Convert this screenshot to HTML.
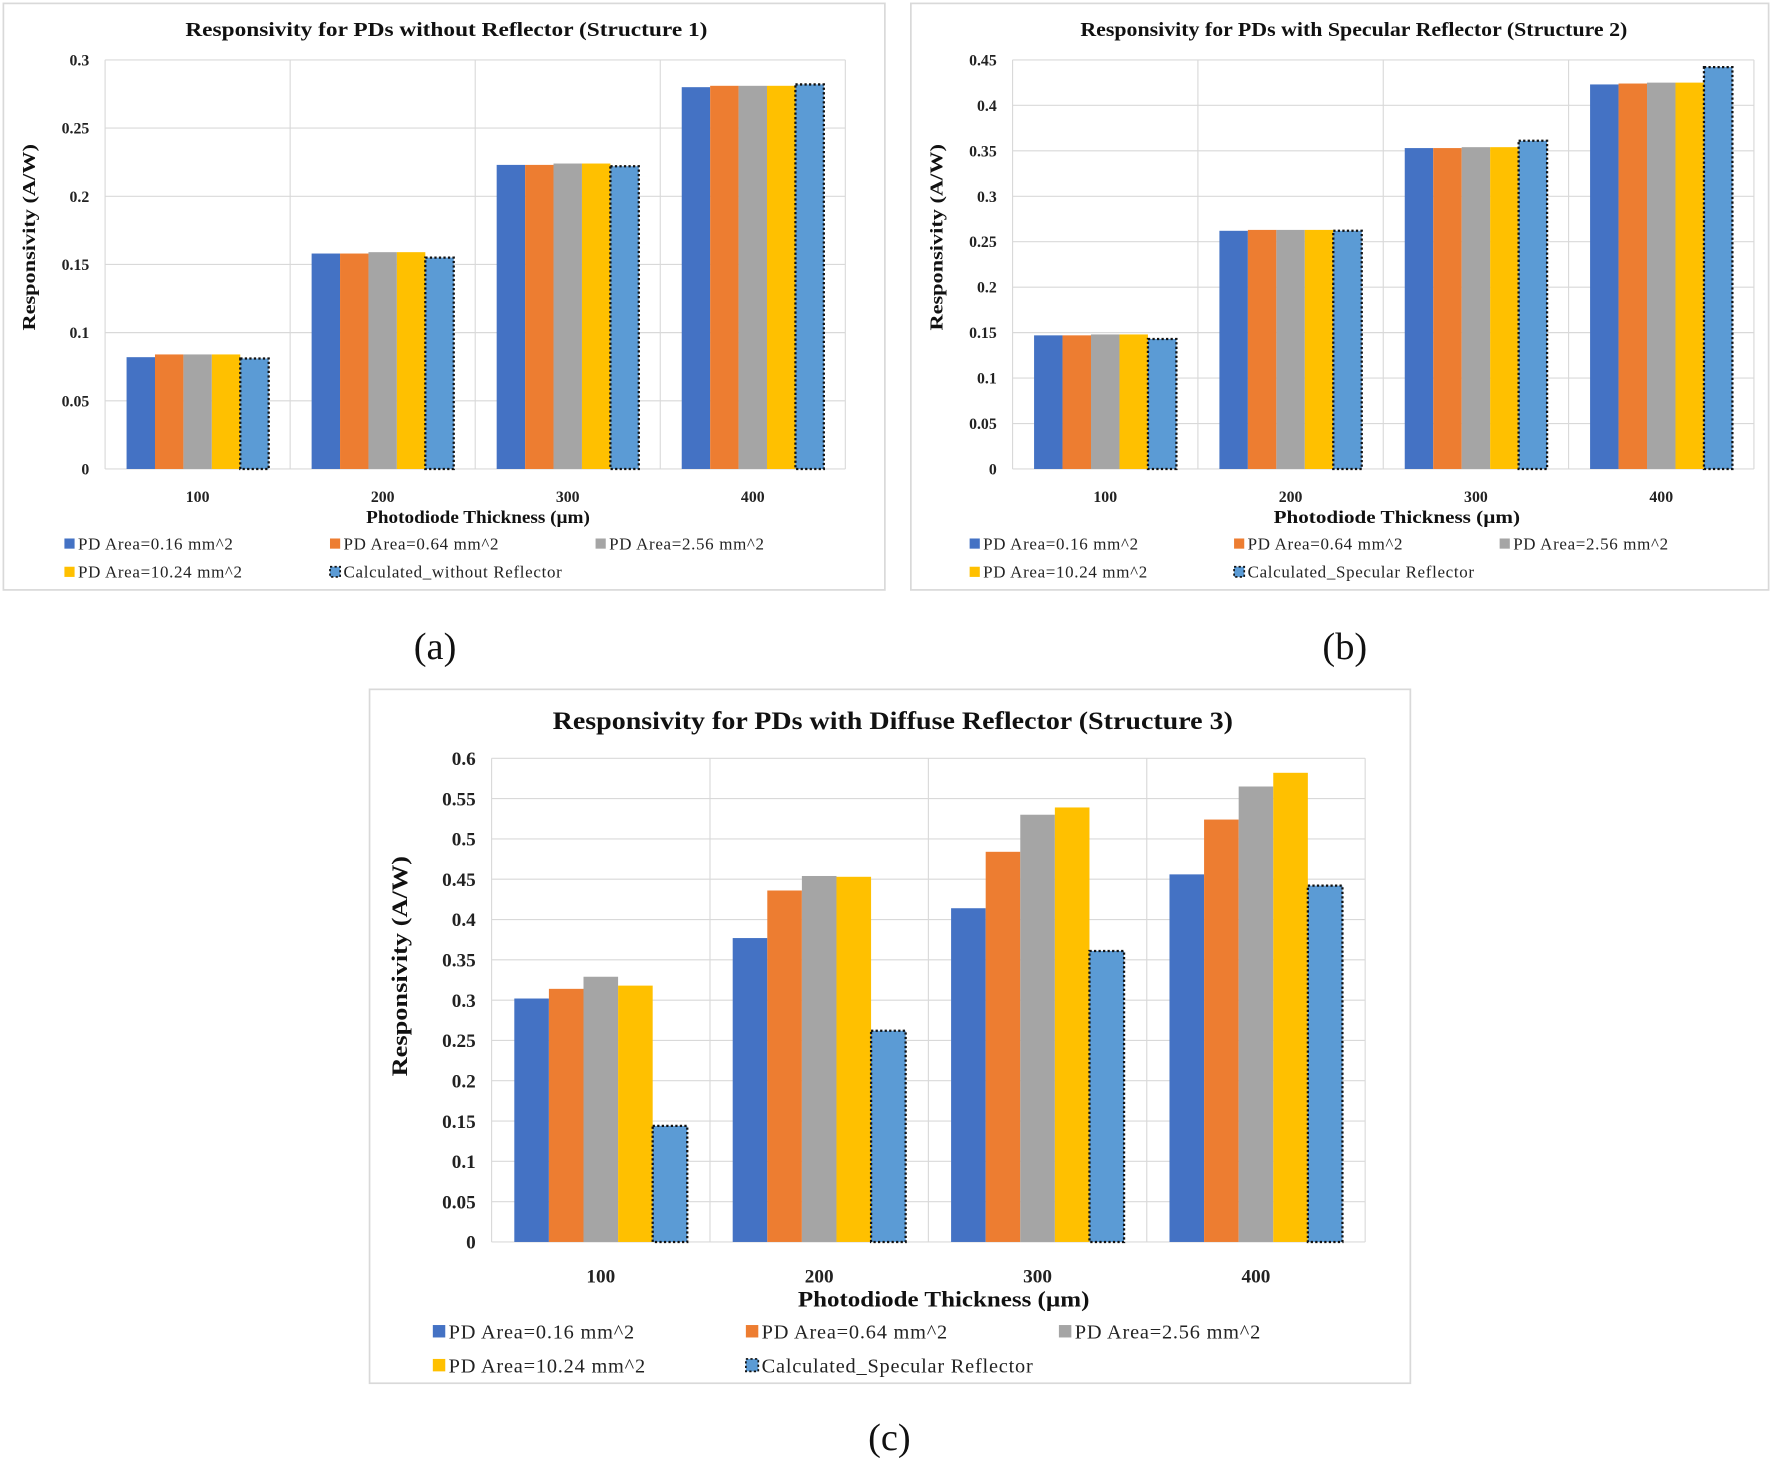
<!DOCTYPE html>
<html><head><meta charset="utf-8"><style>
html,body{margin:0;padding:0;background:#fff;}
svg{display:block;font-family:"Liberation Serif",serif;}
</style></head><body>
<svg id="root" width="1772" height="1462" viewBox="0 0 1568 1293.7" preserveAspectRatio="none" xmlns="http://www.w3.org/2000/svg"></svg>
<script>
const categories = ["100","200","300","400"];
const seriesNamesA = ["PD Area=0.16 mm^2","PD Area=0.64 mm^2","PD Area=2.56 mm^2","PD Area=10.24 mm^2","Calculated_without Reflector"];
const seriesNamesB = ["PD Area=0.16 mm^2","PD Area=0.64 mm^2","PD Area=2.56 mm^2","PD Area=10.24 mm^2","Calculated_Specular Reflector"];
const valuesA = [[0.082,0.158,0.223,0.280],[0.084,0.158,0.223,0.281],[0.084,0.159,0.224,0.281],[0.084,0.159,0.224,0.281],[0.081,0.155,0.222,0.282]];
const valuesB = [[0.147,0.262,0.353,0.423],[0.147,0.263,0.353,0.424],[0.148,0.263,0.354,0.425],[0.148,0.263,0.354,0.425],[0.143,0.262,0.361,0.442]];
const valuesC = [[0.302,0.377,0.414,0.456],[0.314,0.436,0.484,0.524],[0.329,0.454,0.530,0.565],[0.318,0.453,0.539,0.582],[0.144,0.262,0.361,0.442]];
const ticksA = ["0","0.05","0.1","0.15","0.2","0.25","0.3"];
const ticksB = ["0","0.05","0.1","0.15","0.2","0.25","0.3","0.35","0.4","0.45"];
const ticksC = ["0","0.05","0.1","0.15","0.2","0.25","0.3","0.35","0.4","0.45","0.5","0.55","0.6"];
const colors = ["#4472c4","#ed7d31","#a5a5a5","#ffc000","#5b9bd5"];
const NS="http://www.w3.org/2000/svg";
const root=document.getElementById('root');
function mk(tag,attrs,parent,text){const e=document.createElementNS(NS,tag);for(const k in attrs)e.setAttribute(k,attrs[k]);if(text!==undefined)e.textContent=text;(parent||root).appendChild(e);return e;}

function chart(cfg){
  const g=mk('g',{});
  
  
  const box=mk('rect',{x:cfg.box[0],y:cfg.box[1],width:cfg.box[2]-cfg.box[0],height:cfg.box[3]-cfg.box[1],fill:'#fff',stroke:'#d9d9d9','stroke-width':1.5},g);
  
  
  const [x0,y0,x1,y1]=cfg.plot;
  const max=parseFloat(cfg.ticks[cfg.ticks.length-1]);
  const ys=v=>y1-(v/max)*(y1-y0);
  const cw=(x1-x0)/categories.length;
  const xs=i=>x0+i*cw;
  cfg.ticks.forEach(t=>{const v=parseFloat(t);
    const l=mk('line',{x1:x0,x2:x1,y1:ys(v),y2:ys(v),stroke:'#d9d9d9','stroke-width':1},g);
    
    
    const tx=mk('text',{x:x0-14,y:ys(v)+cfg.fs*0.35,'text-anchor':'end','font-size':cfg.fs,'font-weight':'bold',fill:'#222'},g,t);
    
    
  });
  for(let i=0;i<=categories.length;i++){
    const l=mk('line',{x1:xs(i),x2:xs(i),y1:y0,y2:y1,stroke:'#d9d9d9','stroke-width':1},g);
    
    
  }
  const gap=cw*cfg.gapFrac, bw=(cw-2*gap)/5;
  cfg.values.forEach((ser,s)=>{
    ser.forEach((v,i)=>{
      const bx=xs(i)+gap+s*bw;
      const attrs={x:bx,y:ys(v),width:bw,height:y1-ys(v),fill:colors[s]};
      if(s===4){attrs.stroke='#111';attrs['stroke-width']=2;attrs['stroke-dasharray']='2,2';}
      const r=mk('rect',attrs,g);
      
      
    });
  });
  categories.forEach((c,i)=>{
    const t=mk('text',{x:xs(i)+cw/2,y:y1+cfg.fs*2.1,'text-anchor':'middle','font-size':cfg.fs,'font-weight':'bold',fill:'#222'},g,c);
    
    
  });
  const tt=mk('text',{x:cfg.titleX,y:cfg.titleY,'text-anchor':'middle','font-size':cfg.tfs,'font-weight':'bold',fill:'#111',textLength:cfg.titleW,lengthAdjust:'spacingAndGlyphs'},g,cfg.title);
  
  
  const xt=mk('text',{x:cfg.xtX,y:cfg.xtY,'text-anchor':'middle','font-size':cfg.afs,'font-weight':'bold',fill:'#111',textLength:cfg.xtW,lengthAdjust:'spacingAndGlyphs'},g,'Photodiode  Thickness (µm)');
  
  
  const yt=mk('text',{x:0,y:0,transform:`translate(${cfg.ytX},${cfg.ytY}) rotate(-90)`,'text-anchor':'middle','font-size':cfg.afs,'font-weight':'bold',fill:'#111',textLength:cfg.ytW,lengthAdjust:'spacingAndGlyphs'},g,'Responsivity  (A/W)');
  
  
  const pos=[[0,0],[1,0],[2,0],[0,1],[1,1]];
  cfg.names.forEach((n,s)=>{
    const lx=cfg.legX[pos[s][0]], ly=cfg.legY[pos[s][1]];
    const lg=mk('g',{},g);
    
    
    const sq=cfg.sq;
    const a={x:lx,y:ly-sq/2,width:sq,height:sq,fill:colors[s]};
    if(s===4){a.stroke='#111';a['stroke-width']=1.5;a['stroke-dasharray']='2,2';}
    mk('rect',a,lg);
    mk('text',{x:lx+sq+3,y:ly+cfg.lfs*0.35,'font-size':cfg.lfs,fill:'#222','letter-spacing':cfg.ls},lg,n);
  });
}
chart({name:'chart-a',box:[3,3,783,522],plot:[93,53,748,415],ticks:ticksA,values:valuesA,names:seriesNamesA,gapFrac:0.116,
  fs:14,tfs:18,afs:16,lfs:15,ls:0.6,sq:9,title:'Responsivity for PDs without Reflector (Structure 1)',titleX:395,titleY:32,titleW:462,
  xtX:423,xtY:463,xtW:198,ytX:31,ytY:210,ytW:165,legX:[57,292,527],legY:[481,506]});
chart({name:'chart-b',box:[806,3,1565,522],plot:[896,53,1552,415],ticks:ticksB,values:valuesB,names:seriesNamesB,gapFrac:0.116,
  fs:14,tfs:18,afs:16,lfs:15,ls:0.6,sq:9,title:'Responsivity for PDs with Specular Reflector (Structure 2)',titleX:1198,titleY:32,titleW:484,
  xtX:1236,xtY:463,xtW:218,ytX:834,ytY:210,ytW:165,legX:[858,1092,1327],legY:[481,506]});
chart({name:'chart-c',box:[327,610,1248,1224],plot:[435,671,1208,1099],ticks:ticksC,values:valuesC,names:seriesNamesB,gapFrac:0.104,
  fs:17,tfs:22,afs:20,lfs:18,ls:0.7,sq:11,title:'Responsivity for PDs with Diffuse Reflector (Structure 3)',titleX:790,titleY:645,titleW:602,
  xtX:835,xtY:1156,xtW:258,ytX:360,ytY:855,ytW:195,legX:[383,660,937],legY:[1178,1208]});
[['(a)',385,583],['(b)',1190,583],['(c)',787,1283]].forEach(([t,x,y])=>{
  const e=mk('text',{x:x,y:y,'text-anchor':'middle','font-size':34,fill:'#111'},root,t);
  
  
});
</script>
</body></html>
